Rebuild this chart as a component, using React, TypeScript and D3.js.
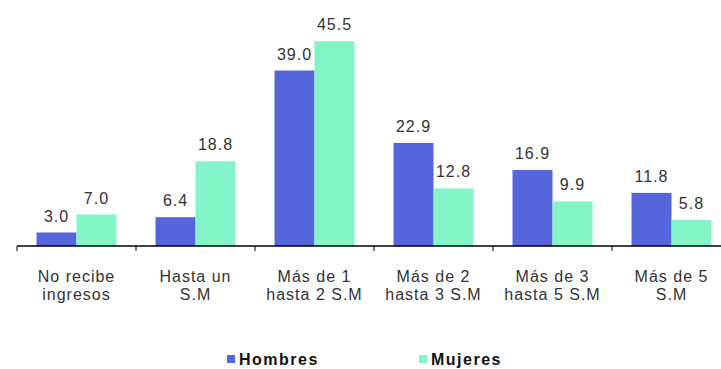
import React from "react";
import * as d3 from "d3";

const categories: string[][] = [
  ["No recibe", "ingresos"],
  ["Hasta un", "S.M"],
  ["Más de 1", "hasta 2 S.M"],
  ["Más de 2", "hasta 3 S.M"],
  ["Más de 3", "hasta 5 S.M"],
  ["Más de 5", "S.M"],
];
const seriesNames = ["Hombres", "Mujeres"];
const hombres = [3.0, 6.4, 39.0, 22.9, 16.9, 11.8];
const mujeres = [7.0, 18.8, 45.5, 12.8, 9.9, 5.8];
const colors = ["#5466da", "#82f4c8"];

const W = 721;
const H = 369;
const x0 = 17;
const step = 119;
const baseY = 246;

export default function App() {
  const keys = categories.map((c) => c.join(" "));
  const x = d3
    .scaleBand<string>()
    .domain(keys)
    .range([x0, x0 + step * keys.length])
    .paddingInner(0.328)
    .paddingOuter(0.164);
  const xs = d3.scaleBand<string>().domain(seriesNames).range([0, x.bandwidth()]);
  const y = d3.scaleLinear().domain([0, 50]).range([baseY, baseY - 50 * 4.5]);
  const series = [hombres, mujeres];

  const ticks = d3.range(keys.length + 1).map((i) => x0 + i * x.step());

  return (
    <svg
      width={W}
      height={H}
      style={{ position: "absolute", left: 0, top: 0, background: "#fff" }}
      fontFamily="'Liberation Sans', Arial, sans-serif"
    >
      {series.map((vals, si) =>
        vals.map((v, i) => {
          const bx = (x(keys[i]) as number) + (xs(seriesNames[si]) as number);
          const bw = xs.bandwidth();
          return (
            <g key={`${si}-${i}`}>
              <rect x={bx} y={y(v)} width={bw} height={baseY - y(v)} fill={colors[si]} />
              <text
                x={bx + bw / 2}
                y={y(v) - 11}
                textAnchor="middle"
                fontSize={16}
                letterSpacing={1}
                fill="#333"
              >
                {v.toFixed(1)}
              </text>
            </g>
          );
        })
      )}
      <line x1={x0} x2={W} y1={baseY} y2={baseY} stroke="#000" strokeWidth={1.5} />
      {ticks.map((t, i) => (
        <line key={i} x1={t} x2={t} y1={baseY} y2={baseY + 5} stroke="#000" strokeWidth={1} />
      ))}
      {categories.map((c, i) => {
        const cx = (x(keys[i]) as number) + x.bandwidth() / 2;
        return (
          <text key={i} textAnchor="middle" fontSize={16} letterSpacing={1} fill="#333">
            <tspan x={cx} y={282}>{c[0]}</tspan>
            <tspan x={cx} y={300}>{c[1]}</tspan>
          </text>
        );
      })}
      {seriesNames.map((n, i) => {
        const lx = [227, 419][i];
        return (
          <g key={n}>
            <rect x={lx} y={355} width={8} height={8} fill={colors[i]} />
            <text x={lx + 12} y={365} fontSize={16} fontWeight="bold" letterSpacing={1.5} fill="#111">
              {n}
            </text>
          </g>
        );
      })}
    </svg>
  );
}
